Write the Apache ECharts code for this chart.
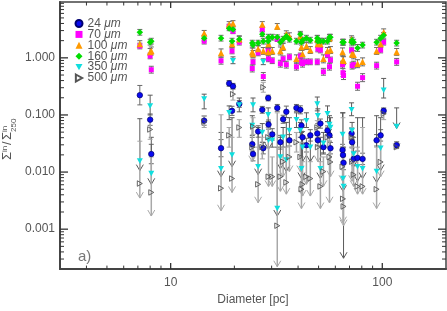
<!DOCTYPE html>
<html><head><meta charset="utf-8">
<script src="https://cdn.jsdelivr.net/npm/echarts@6/dist/echarts.min.js"></script>
<style>html,body{margin:0;padding:0;background:#fff}#c{width:447px;height:311px}</style>
</head><body><div id="c"></div>
<script>
// ---- data ----
const diam = [7.15,8.0,8.1,14.4,17.3,18.9,19.5,19.7,21.1,24.3,24.5,25.9,27.1,27.4,28.9,29.0,30.2,31.9,33.0,34.0,35.2,36.4,39.3,41.0,41.5,42.0,43.8,45.7,49.3,49.6,51.0,52.7,55.1,56.3,56.9,64.9,65.2,65.6,71.6,72.0,73.2,76.4,80.7,94.0,98.2,101.5,116.9];
const s24 = [0.222,0.0828,0.0207,0.0795,0.0262,0.357,0.118,0.318,0.156,0.0308,0.0207,0.0514,0.123,0.0262,0.198,0.0679,0.0457,0.133,0.0333,0.084,0.1135,0.036,0.133,0.123,0.0652,0.0406,0.0296,0.0439,0.0475,0.036,0.0706,0.0273,0.0535,0.0439,0.0262,0.0243,0.0199,0.0145,0.0475,0.0333,0.017,0.0177,0.017,0.036,0.0439,0.118,0.0296];
const e24 = [0.17,0.10,0.17,0.08,0.15,0.05,0.08,0.05,0.06,0.12,0.12,0.10,0.06,0.10,0.05,0.08,0.10,0.06,0.12,0.07,0.10,0.10,0.06,0.07,0.10,0.10,0.12,0.10,0.10,0.10,0.08,0.10,0.08,0.10,0.10,0.10,0.12,0.12,0.08,0.10,0.12,0.12,0.10,0.10,0.10,0.05,0.06];
const s70 = [1.61,1.08,0.62,1.96,0.89,3.55,1.32,2.91,1.88,0.65,0.85,1.22,3.15,0.47,1.32,0.96,0.89,2.12,0.79,0.96,0.76,1.04,0.70,1.08,0.85,0.79,0.85,0.85,0.85,1.43,1.37,0.57,1.13,0.70,0.92,0.76,0.55,0.49,1.37,0.73,0.76,0.318,0.45,0.73,1.37,1.88,0.85];
const e70 = [0.05,0.05,0.06,0.05,0.06,0.04,0.05,0.04,0.05,0.06,0.05,0.05,0.04,0.07,0.05,0.05,0.05,0.04,0.06,0.05,0.06,0.05,0.06,0.05,0.05,0.06,0.05,0.05,0.05,0.05,0.05,0.06,0.05,0.06,0.05,0.06,0.07,0.07,0.05,0.06,0.06,0.07,0.07,0.06,0.05,0.05,0.06];
const s100 = [1.74,1.27,1.32,2.69,1.22,3.84,1.74,3.99,2.12,1.27,1.17,1.43,3.84,1.32,1.27,1.74,1.32,3.55,1.32,1.55,2.59,2.39,0.96,2.39,1.55,1.17,1.61,1.37,2.12,1.74,1.74,0.96,1.32,2.21,1.37,1.27,0.92,0.89,2.12,1.17,1.13,0.79,0.85,1.32,1.74,2.80,1.27];
const e100 = [0.06,0.06,0.07,0.05,0.07,0.05,0.06,0.05,0.06,0.07,0.06,0.06,0.05,0.06,0.06,0.06,0.06,0.05,0.07,0.06,0.06,0.06,0.07,0.06,0.06,0.07,0.06,0.06,0.06,0.06,0.06,0.07,0.06,0.06,0.06,0.07,0.07,0.07,0.06,0.06,0.07,0.07,0.07,0.06,0.06,0.06,0.06];
const s160 = [2.80,1.88,1.96,2.21,2.21,3.28,1.96,3.15,2.12,1.81,1.67,1.81,2.59,1.96,1.96,2.30,2.30,2.30,1.88,2.12,2.39,2.12,1.96,2.59,1.88,2.04,2.21,2.04,2.21,1.96,1.96,1.96,1.96,2.30,2.30,1.88,1.88,1.88,1.88,2.04,1.88,1.49,1.67,1.88,2.21,2.48,1.81];
const e160 = [0.05,0.05,0.05,0.05,0.05,0.04,0.05,0.04,0.05,0.05,0.05,0.05,0.04,0.05,0.05,0.05,0.05,0.04,0.05,0.05,0.05,0.05,0.05,0.05,0.05,0.05,0.05,0.05,0.05,0.05,0.05,0.05,0.05,0.05,0.05,0.05,0.05,0.05,0.05,0.05,0.05,0.06,0.05,0.05,0.05,0.05,0.05];
const s350 = [0.0157,0.144,0.0094,0.190,0.0114,0.109,0.0199,0.89,0.150,0.0652,0.150,0.0124,0.0494,0.85,0.1007,0.036,0.036,0.0023,0.0184,0.0406,0.0163,0.0535,0.0828,0.0535,0.0114,0.0273,0.0795,0.0273,0.156,0.097,0.0114,0.032,0.105,0.0679,0.0603,0.0457,0.0077,0.0056,0.123,0.0535,0.0207,0.0124,0.0114,0.0102,0.0262,0.271,0.0627];
const hi350 = [0.086,0.222,0.0406,0.231,0.0494,0.144,0.0895,1.04,0.198,0.097,0.198,0.0603,0.0706,0.96,0.133,0.0603,0.0494,0.0273,0.0406,0.0603,0.074,0.0895,0.109,0.074,0.0494,0.0406,0.109,0.0406,0.206,0.128,0.0406,0.0494,0.144,0.097,0.0895,0.109,0.109,0.0273,0.163,0.074,0.0406,0.0895,0.0895,0.097,0.0895,0.436,0.133];
const lo350 = [0.0106,0.100,0.0061,0.128,0.0083,0.0828,0.0124,0.79,0.1135,0.0439,0.1135,0.0090,0.0333,0.76,0.0764,0.0252,0.0273,0.0017,0.0114,0.0273,0.0102,0.0333,0.0603,0.0406,0.0077,0.0152,0.0603,0.0152,0.118,0.0706,0.0077,0.0207,0.0764,0.0475,0.0406,0.0273,0.0046,0.00031,0.097,0.0375,0.0124,0.0069,0.0077,0.0066,0.0106,0.198,0.058];
const ul350 = [1,0,1,0,1,0,1,0,0,0,0,1,0,0,0,1,0,1,1,0,1,0,0,0,1,1,0,1,0,0,1,0,0,0,0,0,1,1,0,0,1,1,1,1,1,0,1];
const s500 = [0.0063,0.0557,0.0044,0.0764,0.0052,0.0439,0.0077,0.231,0.0603,0.0273,0.0627,0.0061,0.0273,0.305,0.0406,0.0083,0.0083,0.00115,0.0083,0.0152,0.0066,0.0184,0.0333,0.0184,0.0050,0.0061,0.0083,0.0077,0.0603,0.0273,0.0056,0.0102,0.0406,0.0184,0.015,0.0124,0.0034,0.0025,0.0406,0.0152,0.009,0.0056,0.0056,0.0050,0.015,0.105,0.0273];
const hi500 = [0.0347,0.0828,0.0184,0.097,0.1007,0.0603,0.0406,0.294,0.0828,0.0603,0.0895,0.0273,0.0406,0.372,0.0603,0.0273,0.0184,0.109,0.0184,0.0273,0.0273,0.0333,0.0494,0.0333,0.0184,0.0152,0.0273,0.0152,0.0795,0.0406,0.0152,0.0184,0.0603,0.0406,0.0273,0.0273,0.0895,0.0184,0.0603,0.0273,0.0184,0.0273,0.0603,0.0273,0.0406,0.133,0.0333];
const lo500 = [0.0035,0.0375,0.0017,0.0603,0.0021,0.0273,0.0044,0.182,0.0406,0.0152,0.0457,0.0029,0.0170,0.250,0.0273,0.0056,0.0056,0.00022,0.0046,0.0083,0.0041,0.0102,0.0224,0.0102,0.0023,0.0038,0.0061,0.0038,0.0439,0.0152,0.0023,0.0056,0.0273,0.0029,0.0083,0.0069,0.0013,0.00115,0.0273,0.0069,0.0056,0.0041,0.0041,0.0023,0.0083,0.0828,0.0252];
const ul500 = [1,0,1,0,1,0,1,0,0,1,0,1,0,0,0,1,1,1,1,1,1,1,0,1,1,1,1,1,0,1,1,1,0,1,1,1,1,1,0,1,1,1,1,1,1,0,1];
const bandNames = ['24 μm','70 μm','100 μm','160 μm','350 μm','500 μm'];
const xMajor = [10,100];
const xMinor = [4,5,6,7,8,9,20,30,40,50,60,70,80,90];
const yMajor = [0.001,0.01,0.1,1];
const yMinor = [0.0003,0.0004,0.0005,0.0006,0.0007,0.0008,0.0009,0.002,0.003,0.004,0.005,0.006,0.007,0.008,0.009,0.02,0.03,0.04,0.05,0.06,0.07,0.08,0.09,0.2,0.3,0.4,0.5,0.6,0.7,0.8,0.9,2,3,4,5,6,7,8,9];

// ---- helpers ----
const FONT = 'Liberation Sans';
const TXT = '#555';
function pts(v){ return diam.map((d,i)=>[d, v[i]]); }
function symErr(v,e){ return diam.map((d,i)=>[d, v[i]*Math.pow(10,-e[i]), v[i]*Math.pow(10,e[i]), 0]); }
function limErr(lo,hi,ul){ return diam.map((d,i)=>[d, lo[i], hi[i], ul[i]]); }
function errRender(color,width){
  return function(params, api){
    const x = api.value(0);
    const p0 = api.coord([x, api.value(1)]);
    const p1 = api.coord([x, api.value(2)]);
    const ul = api.value(3);
    const st = {stroke: color, lineWidth: width};
    const c = [
      {type:'line', shape:{x1:p1[0],y1:p1[1],x2:p0[0],y2:p0[1]}, style:st},
      {type:'line', shape:{x1:p1[0]-2.5,y1:p1[1],x2:p1[0]+2.5,y2:p1[1]}, style:{stroke:color,lineWidth:1}}
    ];
    if (ul) {
      c.push({type:'polyline', shape:{points:[[p0[0]-3.5,p0[1]-6],[p0[0],p0[1]],[p0[0]+3.5,p0[1]-6]]}, style:{stroke:color,lineWidth:1,fill:null}});
    } else {
      c.push({type:'line', shape:{x1:p0[0]-2.5,y1:p0[1],x2:p0[0]+2.5,y2:p0[1]}, style:{stroke:color,lineWidth:1}});
    }
    return {type:'group', children:c};
  };
}
function errSeries(data,color,width){
  return {type:'custom', data:data, renderItem:errRender(color,width), clip:false, z:1, silent:true, encode:{x:0,y:1}, legendHoverLink:false};
}
const tickData = [];
xMajor.forEach(v=>tickData.push([v,1,0,1]));
xMinor.forEach(v=>tickData.push([v,1,0,0]));
yMajor.forEach(v=>tickData.push([10,v,1,1]));
yMinor.forEach(v=>tickData.push([10,v,1,0]));
function tickRender(params, api){
  const cs = params.coordSys;
  const kind = api.value(2), maj = api.value(3);
  const st = {stroke:'#333', lineWidth: maj ? 1.3 : 1};
  if (kind === 0) {
    const x = api.coord([api.value(0),1])[0];
    const L = maj ? 6 : 3.5;
    const b = cs.y + cs.height, t = cs.y;
    return {type:'group', children:[
      {type:'line', shape:{x1:x,y1:b,x2:x,y2:b-L}, style:st},
      {type:'line', shape:{x1:x,y1:t,x2:x,y2:t+L}, style:st}]};
  } else {
    const y = api.coord([10, api.value(1)])[1];
    const L = maj ? 8 : 4;
    const l = cs.x, r = cs.x + cs.width;
    return {type:'group', children:[
      {type:'line', shape:{x1:l,y1:y,x2:l+L,y2:y}, style:st},
      {type:'line', shape:{x1:r,y1:y,x2:r-L,y2:y}, style:st}]};
  }
}
function isPow10(v){ const l = Math.log10(v); return Math.abs(l-Math.round(l)) < 1e-6; }

const chart = echarts.init(document.getElementById('c'));
const option = {
  animation: false,
  backgroundColor: '#fff',
  grid: {left: 60, right: 1, top: 2, bottom: 37, show: true, borderColor: '#444', borderWidth: 1.5, backgroundColor: 'transparent'},
  xAxis: {
    type: 'log', logBase: 10, min: 3, max: 200, splitNumber: 2,
    name: 'Diameter [pc]', nameLocation: 'middle', nameGap: 22,
    nameTextStyle: {fontFamily: FONT, fontSize: 12, color: TXT},
    axisLine: {show: true, lineStyle: {color: '#444', width: 2}},
    axisTick: {show: false}, splitLine: {show: false}, minorTick: {show: false},
    axisLabel: {show: true, margin: 8, fontFamily: FONT, fontSize: 12, color: TXT, showMinLabel: false, showMaxLabel: false,
      formatter: v => isPow10(v) ? String(Math.round(v)) : ''}
  },
  yAxis: {
    type: 'log', logBase: 10, min: 0.0002, max: 9.5, splitNumber: 5,
    axisLine: {show: true, lineStyle: {color: '#444', width: 2}},
    axisTick: {show: false}, splitLine: {show: false}, minorTick: {show: false},
    axisLabel: {show: true, margin: 5, fontFamily: FONT, fontSize: 12, color: TXT, showMinLabel: false, showMaxLabel: false,
      formatter: v => (isPow10(v) && v < 5) ? v.toFixed(3) : ''}
  },
  legend: {
    data: bandNames, orient: 'vertical', left: 74.5, top: 17.5, padding: 0, itemGap: -1.1,
    itemWidth: 7, itemHeight: 7, selectedMode: false,
    textStyle: {fontFamily: FONT, fontSize: 12, color: TXT, lineHeight: 11,
      rich: {u: {fontFamily: FONT, fontSize: 12, color: TXT, fontStyle: 'italic', lineHeight: 11}}},
    formatter: n => n.replace('μm', '{u|μm}')
  },
  graphic: [
    {type: 'group', rotation: Math.PI/2, x: 13.5, y: 160, children: [
      {type:'text', x:0, y:0, style:{text:'Σ', fontFamily:FONT, fontSize:13, fill:TXT, verticalAlign:'bottom'}},
      {type:'text', x:8, y:-5, style:{text:'in', fontFamily:FONT, fontSize:8, fill:TXT, verticalAlign:'bottom'}},
      {type:'text', x:15, y:0, style:{text:'/', fontFamily:FONT, fontSize:13, fill:TXT, verticalAlign:'bottom'}},
      {type:'text', x:20, y:0, style:{text:'Σ', fontFamily:FONT, fontSize:13, fill:TXT, verticalAlign:'bottom'}},
      {type:'text', x:28, y:-5, style:{text:'in', fontFamily:FONT, fontSize:8, fill:TXT, verticalAlign:'bottom'}},
      {type:'text', x:28, y:4, style:{text:'250', fontFamily:FONT, fontSize:8, fill:TXT, verticalAlign:'bottom'}}
    ]},
    {type:'text', left: 78, top: 249, style:{text:'a)', fontFamily:FONT, fontSize:15, fill:'#777'}}
  ],
  series: [
    {type:'custom', name:'ticks', data: tickData, renderItem: tickRender, clip:false, z:10, silent:true, encode:{x:0,y:1}},
    errSeries(symErr(s70,e70), '#6a6a6a', 1),
    errSeries(symErr(s100,e100), '#6a6a6a', 1),
    errSeries(symErr(s160,e160), '#6a6a6a', 1),
    errSeries(symErr(s24,e24), '#6a6a6a', 1),
    errSeries(limErr(lo350,hi350,ul350), '#5a5a5a', 1),
    errSeries(limErr(lo500,hi500,ul500), '#a8a8a8', 1.5),
    {type:'scatter', name: bandNames[0], data: pts(s24), symbol:'circle', symbolSize:5.5, z:3,
      itemStyle:{color:'#0a0af0', borderColor:'#000070', borderWidth:0.7, opacity:1}},
    {type:'scatter', name: bandNames[1], data: pts(s70), symbol:'rect', symbolSize:5, z:3,
      itemStyle:{color:'#ff00ff', opacity:1}},
    {type:'scatter', name: bandNames[2], data: pts(s100), symbol:'triangle', symbolSize:6.5, z:3,
      itemStyle:{color:'#ff9a00', opacity:1}},
    {type:'scatter', name: bandNames[3], data: pts(s160), symbol:'diamond', symbolSize:6.5, z:3,
      itemStyle:{color:'#00dd00', opacity:1}},
    {type:'scatter', name: bandNames[4], data: pts(s350), symbol:'path://M0,0 L10,0 L5,9 Z', symbolSize:[6,5.5], z:3,
      itemStyle:{color:'#10dede', opacity:1}},
    {type:'scatter', name: bandNames[5], data: pts(s500), symbol:'path://M0,0 L9,5 L0,10 Z', symbolSize:[5,5.5], z:4,
      itemStyle:{color:'rgba(255,255,255,0)', borderColor:'#555', borderWidth:0.9, opacity:1}}
  ]
};
chart.setOption(option);
</script>
</body></html>
